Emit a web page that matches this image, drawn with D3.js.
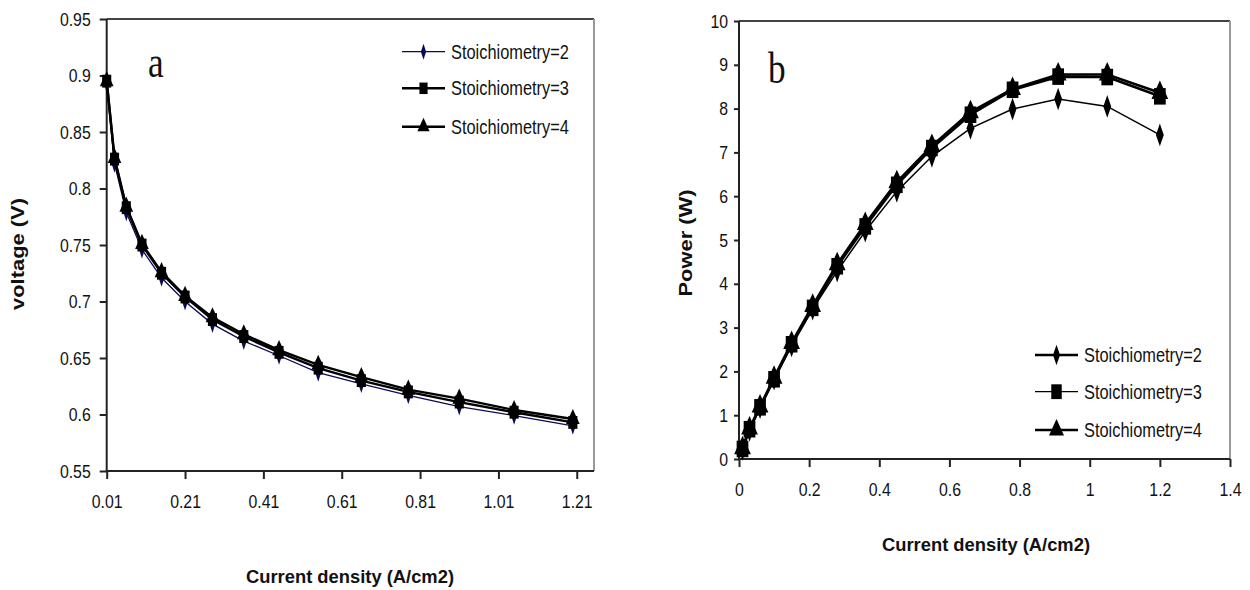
<!DOCTYPE html>
<html lang="en">
<head>
  <meta charset="UTF-8">
  <title>Stoichiometry curves</title>
  <style>
    body { margin: 0; background: #fff; }
    svg { display: block; font-family: "Liberation Sans", Arial, sans-serif; }
    .tick text { fill: #111; }
    .domain { display: none; }
  </style>
</head>
<body>
  <div id="chart"></div>

  <script src="https://d3js.org/d3.v7.min.js"></script>
  <script>
    // current density (A/cm2), same points for every series
    const current = [0.01, 0.03, 0.06, 0.1, 0.15, 0.21, 0.28, 0.36, 0.45, 0.55, 0.66, 0.78, 0.91, 1.05, 1.2];

    // panel a: voltage (V)
    const voltS2 = [0.893, 0.822, 0.779, 0.746, 0.721, 0.700, 0.680, 0.665, 0.652, 0.637, 0.627, 0.617, 0.607, 0.599, 0.590];
    const voltS3 = [0.895, 0.826, 0.783, 0.750, 0.725, 0.704, 0.684, 0.669, 0.655, 0.641, 0.630, 0.620, 0.611, 0.602, 0.593];
    const voltS4 = [0.895, 0.827, 0.784, 0.751, 0.726, 0.705, 0.686, 0.671, 0.657, 0.644, 0.633, 0.622, 0.614, 0.604, 0.596];

    // panel b: power (W)
    const powerS2 = [0.22, 0.65, 1.17, 1.82, 2.58, 3.42, 4.29, 5.2, 6.11, 6.91, 7.55, 7.99, 8.22, 8.05, 7.4];
    const powerS3 = [0.23, 0.68, 1.18, 1.82, 2.62, 3.45, 4.4, 5.31, 6.26, 7.1, 7.86, 8.43, 8.73, 8.72, 8.28];
    const powerS4 = [0.25, 0.7, 1.2, 1.86, 2.65, 3.5, 4.45, 5.37, 6.32, 7.15, 7.92, 8.45, 8.78, 8.78, 8.36];

    const seriesNames = ["Stoichiometry=2", "Stoichiometry=3", "Stoichiometry=4"];

    const voltTicks = [0.55, 0.6, 0.65, 0.7, 0.75, 0.8, 0.85, 0.9, 0.95];
    const currentTicksA = [0.01, 0.21, 0.41, 0.61, 0.81, 1.01, 1.21];
    const powerTicks = [0, 1, 2, 3, 4, 5, 6, 7, 8, 9, 10];
    const currentTicksB = [0, 0.2, 0.4, 0.6, 0.8, 1, 1.2, 1.4];

    const W = 1250, H = 590;
    const svg = d3.select("#chart").append("svg").attr("width", W).attr("height", H);

    // the source picture is a bit squeezed sideways, so text is narrowed
    function label(g, x, y, txt, opts) {
      const o = Object.assign({ size: 18, weight: "normal", anchor: "start", sx: 0.9, rotate: 0, family: null, len: null }, opts);
      const t = g.append("text")
        .attr("transform", `translate(${x},${y}) rotate(${o.rotate}) scale(${o.sx},1)`)
        .attr("text-anchor", o.anchor)
        .attr("font-size", o.size)
        .attr("font-weight", o.weight)
        .attr("fill", "#111")
        .text(txt);
      if (o.family) t.attr("font-family", o.family);
      if (o.len) t.attr("textLength", o.len).attr("lengthAdjust", "spacingAndGlyphs");
      return t;
    }

    const markerType = [d3.symbolDiamond, d3.symbolSquare, d3.symbolTriangle];

    function panel(cfg) {
      const g = svg.append("g");
      const x = d3.scaleLinear().domain(cfg.xDomain).range([cfg.left, cfg.right]);
      const y = d3.scaleLinear().domain(cfg.yDomain).range([cfg.bottom, cfg.top]);

      // plot frame: top and right in grey like the spreadsheet export
      g.append("line").attr("x1", cfg.left).attr("x2", cfg.right).attr("y1", cfg.top).attr("y2", cfg.top)
        .attr("stroke", "#444").attr("stroke-width", 2);
      g.append("line").attr("x1", cfg.right).attr("x2", cfg.right).attr("y1", cfg.top).attr("y2", cfg.bottom)
        .attr("stroke", "#999").attr("stroke-width", 2);

      const xAxis = g.append("g").attr("transform", `translate(0,${cfg.bottom})`)
        .call(d3.axisBottom(x).tickValues(cfg.xTicks).tickSize(8).tickSizeOuter(0).tickFormat(cfg.xFormat));
      const yAxis = g.append("g").attr("transform", `translate(${cfg.left},0)`)
        .call(d3.axisLeft(y).tickValues(cfg.yTicks).tickSize(cfg.yTickSize).tickSizeOuter(0).tickFormat(cfg.yFormat));

      [xAxis, yAxis].forEach(a => {
        a.selectAll(".tick line").attr("stroke", "#222").attr("stroke-width", 2);
        a.selectAll(".tick text").remove();
      });
      xAxis.selectAll(".tick").each(function (d) {
        label(d3.select(this), 0, cfg.xLabelDy, cfg.xFormat(d), { anchor: "middle", size: 18, sx: 0.88 });
      });
      yAxis.selectAll(".tick").each(function (d) {
        label(d3.select(this), -cfg.yLabelGap, 6, cfg.yFormat(d), { anchor: "end", size: 18, sx: 0.88 });
      });

      g.append("line").attr("x1", cfg.left).attr("x2", cfg.right).attr("y1", cfg.bottom).attr("y2", cfg.bottom)
        .attr("stroke", "#222").attr("stroke-width", 2);
      g.append("line").attr("x1", cfg.left).attr("x2", cfg.left).attr("y1", cfg.top).attr("y2", cfg.bottom)
        .attr("stroke", "#222").attr("stroke-width", 2);

      const line = d3.line().x(d => x(d[0])).y(d => y(d[1]));

      cfg.series.forEach((vals, i) => {
        const pts = current.map((c, k) => [c, vals[k]]);
        const st = cfg.styles[i];
        g.append("path").datum(pts).attr("d", line)
          .attr("fill", "none").attr("stroke", st.color).attr("stroke-width", st.width);
        g.selectAll(null).data(pts).enter().append("path")
          .attr("d", d3.symbol().type(markerType[i]).size(st.size)())
          .attr("transform", d => `translate(${x(d[0])},${y(d[1])}) scale(${st.sx},${st.sy})`)
          .attr("fill", st.color);
      });

      // legend
      cfg.legendRows.forEach((ly, i) => {
        const st = cfg.styles[i];
        g.append("line").attr("x1", cfg.legendX).attr("x2", cfg.legendX + 43).attr("y1", ly).attr("y2", ly)
          .attr("stroke", st.color).attr("stroke-width", st.legendWidth);
        g.append("path")
          .attr("d", d3.symbol().type(markerType[i]).size(st.size * 0.8)())
          .attr("transform", `translate(${cfg.legendX + 21.5},${ly}) scale(${st.sx},${st.sy})`)
          .attr("fill", st.color);
        label(g, cfg.legendX + 49, ly + 7, seriesNames[i], { size: 20, sx: 0.82 });
      });

      label(g, cfg.panelLetter[0], cfg.panelLetter[1], cfg.panelLetter[2],
        { size: 44, sx: 0.8, family: "'Liberation Serif', 'Times New Roman', serif" });
      label(g, cfg.xTitle[0], cfg.xTitle[1], "Current density (A/cm2)", { anchor: "middle", size: 18, weight: "bold", sx: 1, len: 208 });
      label(g, cfg.yTitle[0], cfg.yTitle[1], cfg.yTitle[2], { anchor: "middle", size: 18, weight: "bold", sx: 1, rotate: -90, len: cfg.yTitle[3] });
    }

    const fmt2 = d => String(+d.toFixed(2));

    panel({
      xDomain: [0.01, 1.254], yDomain: [0.55, 0.95],
      left: 106.7, right: 594, top: 19, bottom: 471,
      xTicks: currentTicksA, yTicks: voltTicks, xFormat: fmt2, yFormat: fmt2,
      yTickSize: 7, yLabelGap: 16, xLabelDy: 37,
      series: [voltS2, voltS3, voltS4],
      styles: [
        { color: "#0a0a55", width: 1.3, legendWidth: 1.3, size: 60, sx: 0.7, sy: 1.25 },
        { color: "#000", width: 2.4, legendWidth: 2.6, size: 115, sx: 0.85, sy: 1.2 },
        { color: "#000", width: 2.4, legendWidth: 2.6, size: 100, sx: 0.9, sy: 1.15 }
      ],
      legendX: 402, legendRows: [51.7, 88.3, 126.7],
      panelLetter: [148, 77, "a"],
      xTitle: [350, 583],
      yTitle: [24, 254, "voltage (V)", 112]
    });

    panel({
      xDomain: [0, 1.4], yDomain: [0, 10],
      left: 739, right: 1230, top: 21, bottom: 459,
      xTicks: currentTicksB, yTicks: powerTicks, xFormat: fmt2, yFormat: d => String(d),
      yTickSize: 5, yLabelGap: 11, xLabelDy: 37,
      series: [powerS2, powerS3, powerS4],
      styles: [
        { color: "#000", width: 1.5, legendWidth: 2.6, size: 95, sx: 0.75, sy: 1.25 },
        { color: "#000", width: 2.6, legendWidth: 1.3, size: 190, sx: 0.85, sy: 1.2 },
        { color: "#000", width: 2.6, legendWidth: 2.6, size: 150, sx: 0.9, sy: 1.15 }
      ],
      legendX: 1035, legendRows: [355, 391.7, 430],
      panelLetter: [768, 83, "b"],
      xTitle: [986, 551],
      yTitle: [692, 243, "Power (W)", 107]
    });
  </script>
</body>
</html>
